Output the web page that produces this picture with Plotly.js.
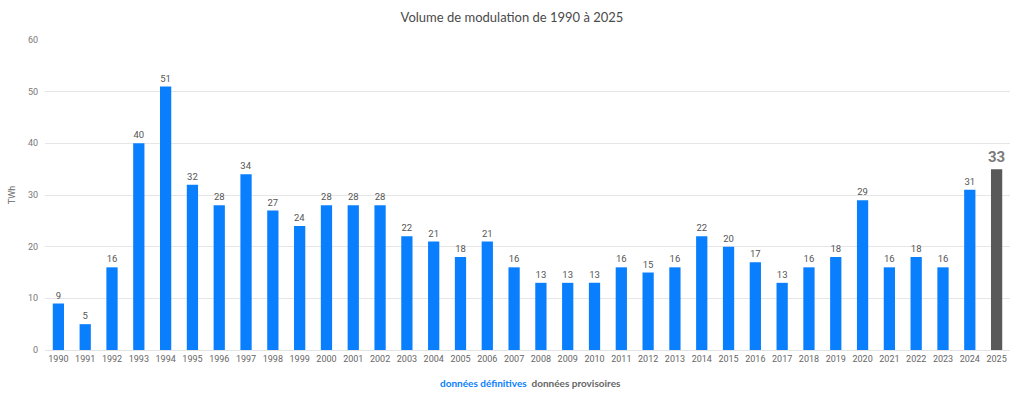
<!DOCTYPE html>
<html>
<head>
<meta charset="utf-8">
<script src="https://cdn.plot.ly/plotly-3.0.1.min.js"></script>
<style>html,body{margin:0;padding:0;background:#fff;}#chart{width:1024px;height:393px;}</style>
</head>
<body>
<div id="chart"></div>
<script>
const years = ["1990","1991","1992","1993","1994","1995","1996","1997","1998","1999","2000","2001","2002","2003","2004","2005","2006","2007","2008","2009","2010","2011","2012","2013","2014","2015","2016","2017","2018","2019","2020","2021","2022","2023","2024","2025"];
const volumes = [9,5,16,40,51,32,28,34,27,24,28,28,28,22,21,18,21,16,13,13,13,16,15,16,22,20,17,13,16,18,29,16,18,16,31,35];
const valueLabels = ["9","5","16","40","51","32","28","34","27","24","28","28","28","22","21","18","21","16","13","13","13","16","15","16","22","20","17","13","16","18","29","16","18","16","31","<b>33</b>"];
const status = ["def","def","def","def","def","def","def","def","def","def","def","def","def","def","def","def","def","def","def","def","def","def","def","def","def","def","def","def","def","def","def","def","def","def","def","prov"];
const legendDef = "données définitives";
const legendProv = "données provisoires";

const BLUE = "#0a7ffe", GREY = "#595959";
const colors = status.map(s => s === "def" ? BLUE : GREY);
const tSizes = status.map(s => s === "def" ? 9.5 : 15);
const tColors = status.map(s => s === "def" ? "#555" : "#7a7a7a");

const trace = {
  type: "bar",
  x: years,
  y: volumes,
  text: valueLabels,
  textposition: "outside",
  constraintext: "none",
  cliponaxis: false,
  textfont: {family: "Roboto, Arial, sans-serif", size: tSizes, color: tColors},
  outsidetextfont: {family: "Roboto, Arial, sans-serif", size: tSizes, color: tColors},
  marker: {color: colors},
  hoverinfo: "x+y"
};

const layout = {
  width: 1024, height: 393,
  margin: {l: 45, r: 14, t: 40, b: 43},
  paper_bgcolor: "#fff", plot_bgcolor: "#fff",
  bargap: 0.58,
  showlegend: false,
  title: {text: "Volume de modulation de 1990 à 2025", x: 0.5, xanchor: "center", y: 0.955, yanchor: "middle",
          font: {family: "Lato, 'Open Sans', sans-serif", size: 13, color: "#4a4a4a"}},
  xaxis: {type: "category", tickfont: {family: "Roboto, Arial, sans-serif", size: 9, color: "#666"},
          showgrid: false, showline: true, linecolor: "#e3e3e3", ticks: "", ticklen: 0},
  yaxis: {range: [0, 60], dtick: 10, gridcolor: "#e6e6e6", zeroline: false,
          tickfont: {family: "Roboto, Arial, sans-serif", size: 9, color: "#777"}, ticklabelstandoff: 6,
          title: {text: "TWh", font: {family: "Roboto, Arial, sans-serif", size: 9, color: "#666"}, standoff: 10}},
  annotations: [{
    xref: "paper", yref: "paper", x: 0.503, y: -0.105, xanchor: "center", yanchor: "middle", showarrow: false,
    text: "<b><span style='color:" + BLUE + "'>" + legendDef + "</span>  <span style='color:#666'>" + legendProv + "</span></b>",
    font: {family: "Lato, 'Open Sans', sans-serif", size: 10}
  }]
};

Plotly.newPlot("chart", [trace], layout, {displayModeBar: false, staticPlot: true});
</script>
</body>
</html>
